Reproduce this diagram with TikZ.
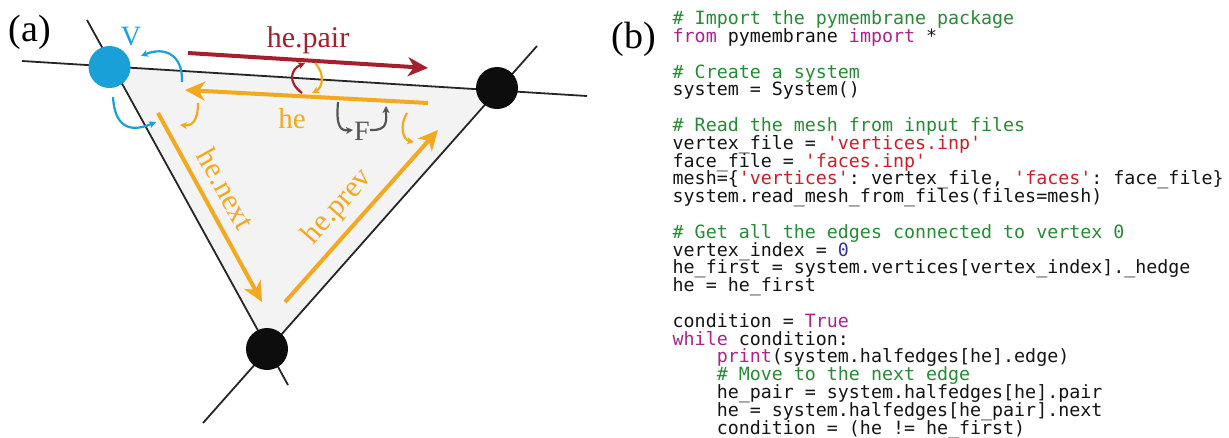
\documentclass[tikz,border=0pt]{standalone}
\usepackage{fontspec}
\setmainfont{Liberation Serif}
\setmonofont{DejaVu Sans Mono}
\usetikzlibrary{arrows.meta,calc}
\definecolor{orng}{RGB}{242,169,30}
\definecolor{dred}{RGB}{168,30,45}
\definecolor{vblue}{RGB}{26,160,216}
\definecolor{fgray}{RGB}{85,85,85}
\definecolor{facefill}{RGB}{243,243,243}
\definecolor{cgreen}{RGB}{38,139,52}
\definecolor{ckw}{RGB}{170,35,140}
\definecolor{cstr}{RGB}{205,30,40}
\definecolor{cnum}{RGB}{50,50,160}
\definecolor{ctxt}{RGB}{20,20,20}
\newcommand{\cmt}[1]{\textcolor{cgreen}{#1}}
\newcommand{\kwd}[1]{\textcolor{ckw}{#1}}
\newcommand{\strg}[1]{\textcolor{cstr}{#1}}
\newcommand{\numb}[1]{\textcolor{cnum}{#1}}
\newcommand{\ind}{\hspace*{4\fontcharwd\font`M}}
\tikzset{
  bigarrow/.style={line width=4pt,-{Stealth[length=20pt,width=19pt,inset=6pt]}},
  smallarrow/.style={line width=2.2pt,-{Stealth[length=7pt,width=7pt,inset=2pt]}},
  meshline/.style={line width=1.8pt,black!85},
  vtx/.style={circle,fill=black!95,minimum size=42pt,inner sep=0pt},
  lbl/.style={font=\fontsize{30}{30}\selectfont,inner sep=0pt},
  codeline/.style={anchor=base west,inner sep=0pt,text=ctxt,
    font=\ttfamily\fontsize{18.3}{17.8}\selectfont\frenchspacing}
}
\begin{document}
\begin{tikzpicture}[x=1pt,y=-1pt]
\useasboundingbox (0,0) rectangle (1229,437);
% mesh line end points
\coordinate (T1) at (22,61);
\coordinate (T2) at (587,96);
\coordinate (L1) at (87,20);
\coordinate (L2) at (288,385);
\coordinate (R1) at (537,46);
\coordinate (R2) at (203,423);
% face
\fill[facefill] (intersection of T1--T2 and L1--L2) -- (intersection of T1--T2 and R1--R2)
  -- (intersection of L1--L2 and R1--R2) -- cycle;
\draw[meshline] (T1) -- (T2);
\draw[meshline] (L1) -- (L2);
\draw[meshline] (R1) -- (R2);
% vertices
\node[vtx,fill=vblue] (V) at (109.5,67) {};
\node[vtx] (B) at (497,88) {};
\node[vtx] (C) at (267,349) {};
% big half-edge arrows
\coordinate (pairS) at (188,53);
\coordinate (pairE) at (428,68);
\coordinate (heS) at (428,103);
\coordinate (heE) at (185,90);
\coordinate (nextS) at (158,113);
\coordinate (nextE) at (262,302);
\coordinate (prevS) at (285,302);
\coordinate (prevE) at (438,130);
\draw[bigarrow,dred] (pairS) -- (pairE);
\draw[bigarrow,orng] (heS) -- (heE);
\draw[bigarrow,orng] (nextS) -- (nextE);
\draw[bigarrow,orng] (prevS) -- (prevE);
% small curved arrows
\draw[smallarrow,vblue] (182,82) .. controls (183,55) and (165,46) .. (141,56);
\draw[smallarrow,vblue] (113,97) .. controls (115,132) and (135,131) .. (156,122);
\draw[smallarrow,orng] (198,103) .. controls (198,121) and (192,126) .. (180,125);
\draw[smallarrow,dred] (302,93) .. controls (287,82) and (291,69) .. (305,63);
\draw[smallarrow,orng] (315,63) .. controls (326,75) and (322,88) .. (312,93);
\draw[smallarrow,fgray] (338,102) .. controls (336,126) and (340,131) .. (353,130);
\draw[smallarrow,fgray] (370,130) .. controls (389,131) and (386,120) .. (386,106);
\draw[smallarrow,orng] (407,113) .. controls (399,126) and (403,140) .. (414,142);
% labels
\node[lbl,anchor=base,font=\fontsize{38}{38}\selectfont] (la) at (30,41) {(a)};
\node[lbl,anchor=base,font=\fontsize{38}{38}\selectfont] (lb) at (634,48) {(b)};
\node[lbl,anchor=base,text=vblue,font=\fontsize{28}{28}\selectfont] (lV) at (131,45) {V};
\node[lbl,anchor=base,text=dred] (lpair) at (308,47) {he.pair};
\node[lbl,anchor=base,text=orng,font=\fontsize{29}{29}\selectfont] (lhe) at (292,128) {he};
\node[lbl,anchor=base,text=fgray,font=\fontsize{28}{28}\selectfont] (lF) at (362,140) {F};
\node[lbl,text=orng,rotate=-61] (lnext) at (226,189) {he.next};
\node[lbl,text=orng,rotate=48.5] (lprev) at (338,207) {he.prev};
% code
\node[codeline] (c1) at (672.5,24.6) {\cmt{\# Import the pymembrane package}};
\node[codeline] (c2) at (672.5,42.4) {\kwd{from} pymembrane \kwd{import} *};
\node[codeline] (c4) at (672.5,78.0) {\cmt{\# Create a system}};
\node[codeline] (c5) at (672.5,95.8) {system = System()};
\node[codeline] (c7) at (672.5,131.4) {\cmt{\# Read the mesh from input files}};
\node[codeline] (c8) at (672.5,149.2) {vertex\_file = \strg{'vertices.inp'}};
\node[codeline] (c9) at (672.5,167.0) {face\_file = \strg{'faces.inp'}};
\node[codeline] (c10) at (672.5,184.8) {mesh=\{\strg{'vertices'}: vertex\_file, \strg{'faces'}: face\_file\}};
\node[codeline] (c11) at (672.5,202.6) {system.read\_mesh\_from\_files(files=mesh)};
\node[codeline] (c13) at (672.5,238.2) {\cmt{\# Get all the edges connected to vertex 0}};
\node[codeline] (c14) at (672.5,256.0) {vertex\_index = \numb{0}};
\node[codeline] (c15) at (672.5,273.8) {he\_first = system.vertices[vertex\_index].\_hedge};
\node[codeline] (c16) at (672.5,291.6) {he = he\_first};
\node[codeline] (c18) at (672.5,327.2) {condition = \kwd{True}};
\node[codeline] (c19) at (672.5,345.0) {\kwd{while} condition:};
\node[codeline] (c20) at (672.5,362.8) {\ind\kwd{print}(system.halfedges[he].edge)};
\node[codeline] (c21) at (672.5,380.6) {\ind\cmt{\# Move to the next edge}};
\node[codeline] (c22) at (672.5,398.4) {\ind he\_pair = system.halfedges[he].pair};
\node[codeline] (c23) at (672.5,416.2) {\ind he = system.halfedges[he\_pair].next};
\node[codeline] (c24) at (672.5,434.0) {\ind condition = (he != he\_first)};
\end{tikzpicture}
\end{document}
